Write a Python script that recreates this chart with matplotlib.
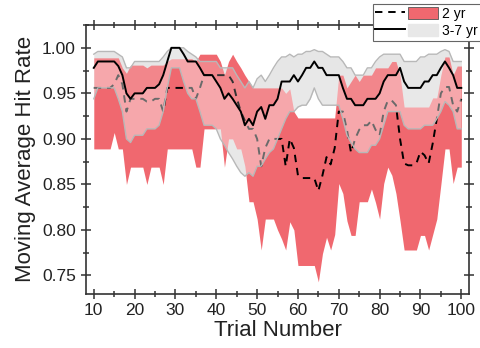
import matplotlib
matplotlib.use("Agg")
import matplotlib.pyplot as plt
import numpy as np
from matplotlib.legend_handler import HandlerTuple
from matplotlib.lines import Line2D
from matplotlib.patches import Patch
from matplotlib.ticker import MultipleLocator, FormatStrFormatter

plt.rcParams["font.family"] = ["Liberation Sans", "DejaVu Sans"]

trials = np.arange(10, 101)

# 2 yr group: moving average hit rate (mean) and band
young_mean = [
    0.956, 0.956, 0.956, 0.956, 0.956, 0.960, 0.970, 0.960, 0.930, 0.944,   # 10-19
    0.944, 0.944, 0.944, 0.941, 0.941, 0.944, 0.944, 0.930, 0.956, 0.956,   # 20-29
    0.956, 0.956, 0.956, 0.956, 0.956, 0.944, 0.956, 0.970, 0.970, 0.970,   # 30-39
    0.970, 0.970, 0.970, 0.970, 0.963, 0.945, 0.930, 0.920, 0.911, 0.911,   # 40-49
    0.900, 0.870, 0.890, 0.900, 0.900, 0.900, 0.900, 0.870, 0.900, 0.890,   # 50-59
    0.860, 0.857, 0.857, 0.857, 0.857, 0.843, 0.860, 0.880, 0.872, 0.890,   # 60-69
    0.930, 0.930, 0.910, 0.885, 0.900, 0.910, 0.915, 0.915, 0.920, 0.910,   # 70-79
    0.904, 0.930, 0.942, 0.942, 0.937, 0.900, 0.873, 0.871, 0.871, 0.873,   # 80-89
    0.886, 0.882, 0.873, 0.895, 0.922, 0.950, 0.957, 0.957, 0.937, 0.930,   # 90-99
    0.944,                                                                  # 100
]
young_upper = [
    0.989, 0.989, 0.989, 0.989, 0.989, 0.989, 0.989, 0.978, 0.972, 0.981,
    0.981, 0.981, 0.981, 0.978, 0.981, 0.981, 0.981, 0.981, 0.985, 0.988,
    0.988, 0.988, 0.988, 0.988, 0.988, 0.985, 0.993, 0.993, 0.993, 0.993,
    0.993, 0.985, 0.970, 0.985, 0.993, 0.985, 0.978, 0.970, 0.963, 0.956,
    0.956, 0.956, 0.956, 0.956, 0.956, 0.956, 0.956, 0.950, 0.955, 0.930,
    0.923, 0.923, 0.923, 0.923, 0.923, 0.923, 0.923, 0.923, 0.923, 0.923,
    0.970, 0.970, 0.956, 0.963, 0.970, 0.963, 0.970, 0.970, 0.970, 0.978,
    0.978, 0.978, 0.978, 0.985, 0.985, 0.970, 0.935, 0.935, 0.935, 0.935,
    0.935, 0.935, 0.935, 0.945, 0.945, 0.970, 0.990, 0.990, 0.970, 0.980,
    0.980,
]
young_lower = [
    0.889, 0.889, 0.889, 0.889, 0.889, 0.907, 0.889, 0.889, 0.850, 0.869,
    0.869, 0.869, 0.869, 0.850, 0.869, 0.869, 0.869, 0.850, 0.889, 0.889,
    0.889, 0.889, 0.889, 0.889, 0.889, 0.869, 0.869, 0.911, 0.911, 0.911,
    0.911, 0.911, 0.869, 0.900, 0.900, 0.889, 0.889, 0.870, 0.831, 0.831,
    0.812, 0.778, 0.812, 0.812, 0.812, 0.800, 0.790, 0.778, 0.809, 0.800,
    0.761, 0.761, 0.761, 0.761, 0.761, 0.743, 0.774, 0.792, 0.778, 0.795,
    0.851, 0.840, 0.810, 0.794, 0.794, 0.831, 0.831, 0.831, 0.845, 0.830,
    0.812, 0.851, 0.869, 0.860, 0.840, 0.810, 0.778, 0.778, 0.778, 0.778,
    0.794, 0.794, 0.778, 0.795, 0.812, 0.850, 0.889, 0.889, 0.851, 0.869,
    0.869,
]

# 3-7 yr group
old_mean = [
    0.978, 0.985, 0.985, 0.985, 0.985, 0.985, 0.980, 0.970, 0.950, 0.944,
    0.950, 0.950, 0.950, 0.956, 0.956, 0.956, 0.960, 0.970, 0.985, 1.000,
    1.000, 1.000, 0.993, 0.985, 0.985, 0.985, 0.978, 0.970, 0.970, 0.970,
    0.963, 0.956, 0.944, 0.950, 0.944, 0.937, 0.930, 0.915, 0.922, 0.915,
    0.930, 0.935, 0.922, 0.937, 0.937, 0.944, 0.963, 0.963, 0.963, 0.970,
    0.963, 0.970, 0.978, 0.978, 0.985, 0.978, 0.978, 0.970, 0.970, 0.970,
    0.970, 0.956, 0.944, 0.944, 0.937, 0.937, 0.937, 0.944, 0.944, 0.944,
    0.950, 0.963, 0.970, 0.970, 0.970, 0.978, 0.963, 0.956, 0.956, 0.956,
    0.956, 0.963, 0.963, 0.970, 0.970, 0.978, 0.985, 0.978, 0.970, 0.956,
    0.956,
]
old_upper = [
    0.993, 0.996, 0.996, 0.996, 0.996, 0.996, 0.993, 0.990, 0.978, 0.978,
    0.985, 0.985, 0.985, 0.985, 0.985, 0.985, 0.985, 0.990, 0.996, 1.000,
    1.000, 1.000, 1.000, 0.996, 0.993, 0.990, 0.985, 0.985, 0.985, 0.985,
    0.985, 0.978, 0.978, 0.978, 0.978, 0.970, 0.963, 0.956, 0.963, 0.956,
    0.966, 0.970, 0.963, 0.970, 0.978, 0.985, 0.990, 0.990, 0.993, 0.990,
    0.993, 0.993, 0.996, 0.996, 0.998, 0.996, 0.996, 0.993, 0.990, 0.990,
    0.990, 0.985, 0.978, 0.978, 0.970, 0.970, 0.970, 0.978, 0.978, 0.985,
    0.990, 0.993, 0.993, 0.993, 0.993, 0.993, 0.985, 0.985, 0.985, 0.985,
    0.990, 0.990, 0.993, 0.993, 0.993, 0.996, 0.998, 0.996, 0.985, 0.985,
    0.985,
]
old_lower = [
    0.944, 0.956, 0.956, 0.956, 0.956, 0.956, 0.944, 0.930, 0.900, 0.896,
    0.904, 0.904, 0.904, 0.911, 0.911, 0.911, 0.915, 0.930, 0.956, 0.978,
    0.978, 0.978, 0.963, 0.950, 0.944, 0.944, 0.930, 0.915, 0.915, 0.915,
    0.911, 0.900, 0.893, 0.885, 0.878, 0.870, 0.863, 0.859, 0.863, 0.859,
    0.870, 0.870, 0.878, 0.885, 0.889, 0.900, 0.911, 0.922, 0.930, 0.930,
    0.935, 0.937, 0.937, 0.944, 0.956, 0.944, 0.937, 0.937, 0.937, 0.937,
    0.937, 0.922, 0.904, 0.896, 0.889, 0.885, 0.885, 0.885, 0.893, 0.893,
    0.900, 0.915, 0.930, 0.930, 0.930, 0.930, 0.915, 0.911, 0.911, 0.911,
    0.911, 0.915, 0.915, 0.915, 0.922, 0.930, 0.941, 0.937, 0.930, 0.911,
    0.911,
]

red = "#f0686f"
dash = (0, (3.8, 3))

fig = plt.figure(figsize=(4.81, 3.48), dpi=100)
ax = fig.add_axes([0.178, 0.156, 0.798, 0.772])

# grey band underneath, red band, then light veils of the grey band on top
ax.fill_between(trials, old_mean, old_upper, color="#e0e0e0", lw=0, zorder=0)
ax.fill_between(trials, old_lower, old_mean, color="#d9d9d9", lw=0, zorder=0)
ax.fill_between(trials, young_lower, young_upper, color=red, lw=0, zorder=1)
ax.plot(trials, young_mean, color="black", ls=dash, lw=1.4, zorder=2)
ax.fill_between(trials, old_mean, old_upper, facecolor="white", alpha=0.2,
                edgecolor="none", zorder=3)
ax.fill_between(trials, old_lower, old_mean, facecolor="white", alpha=0.42,
                edgecolor="none", zorder=3)
ax.plot(trials, old_lower, color="#b8b8b8", lw=1.0, zorder=3)
ax.plot(trials, old_upper, color="#b8b8b8", lw=1.0, zorder=3)
ax.plot(trials, old_mean, color="black", lw=1.4, zorder=4)

ax.set_xlim(8, 102)
ax.set_ylim(0.73, 1.025)
ax.xaxis.set_major_locator(MultipleLocator(10))
ax.xaxis.set_minor_locator(MultipleLocator(5))
ax.yaxis.set_major_locator(MultipleLocator(0.05))
ax.yaxis.set_minor_locator(MultipleLocator(0.025))
ax.yaxis.set_major_formatter(FormatStrFormatter("%.2f"))
ax.tick_params(which="both", direction="inout", top=True, right=True,
               color="#333333", width=1.1, labelsize=12.5, labelcolor="#222222")
ax.tick_params(which="major", length=7)
ax.tick_params(which="minor", length=4)
for sp in ax.spines.values():
    sp.set_color("#333333")
    sp.set_linewidth(1.2)

ax.set_xlabel("Trial Number", fontsize=16, color="#222222", labelpad=1)
ax.set_ylabel("Moving Average Hit Rate", fontsize=16, color="#222222", labelpad=4)

h1 = (Line2D([], [], color="black", ls=dash, lw=1.4),
      Patch(facecolor=red, edgecolor="#555555", lw=0.6))
h2 = (Line2D([], [], color="black", lw=1.4),
      Patch(facecolor="#e8e8e8", edgecolor="#e8e8e8"))
leg = fig.legend([h1, h2], ["2 yr", "3-7 yr"], loc="upper right", bbox_to_anchor=(0.999, 0.988),
                 handler_map={tuple: HandlerTuple(ndivide=None, pad=0.25)},
                 fontsize=10, handlelength=4.5, handleheight=1.0, labelspacing=0.2,
                 handletextpad=0.3, borderpad=0.2, borderaxespad=0, fancybox=False,
                 framealpha=1, edgecolor="#666666")
leg.get_frame().set_linewidth(0.8)

fig.savefig("out.png", dpi=100)
